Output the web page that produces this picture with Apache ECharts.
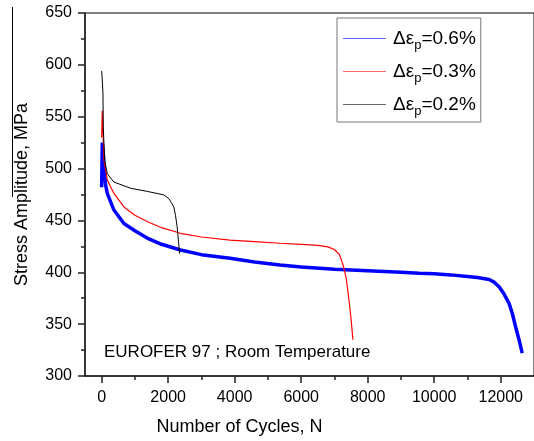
<!DOCTYPE html>
<html>
<head>
<meta charset="utf-8">
<script src="https://cdn.jsdelivr.net/npm/echarts@6/dist/echarts.min.js"></script>
<style>
html, body { margin: 0; padding: 0; background: #fff; }
#chart { width: 534px; height: 441px; }
</style>
</head>
<body>
<div id="chart"></div>
<script>
// 数据：循环次数 / 应力幅
var cycles06 = [0, 20, 50, 90, 120, 170, 370, 670, 1000, 1370, 1800, 2370, 3000, 3860, 4600, 5360, 6000, 7000, 8000, 9000, 9550, 10000, 10500, 11000, 11300, 11650, 11800, 11950, 12100, 12250, 12350, 12450, 12550, 12645];
var stress06 = [482, 525, 515, 495, 484, 476, 460, 447, 440, 433, 427, 421.5, 417, 413.5, 410, 407, 405, 403, 401.5, 400, 399, 398.5, 397.5, 396, 395, 393, 390.5, 386, 379, 370, 360, 347, 335, 322];

var cycles03 = [0, 20, 70, 170, 370, 670, 1000, 1370, 1800, 2370, 3000, 3860, 4600, 5360, 6000, 6500, 6800, 7000, 7150, 7250, 7350, 7430, 7500, 7555];
var stress03 = [530, 556, 508, 489, 476, 463, 455, 449, 443, 437.6, 434, 431, 429.5, 428, 427, 426, 424.5, 422, 417, 408, 395, 375, 355, 335];

var cycles02 = [0, 10, 40, 50, 90, 170, 370, 870, 1370, 1870, 2020, 2100, 2170, 2220, 2270, 2310, 2345];
var stress02 = [594, 590, 573, 540, 508, 495, 487, 481, 478, 474.6, 471, 467, 463, 455, 444, 430, 418];

var xMajor = [0, 2000, 4000, 6000, 8000, 10000, 12000];
var xMinor = [1000, 3000, 5000, 7000, 9000, 11000];

var seriesNames = ['0.6%', '0.3%', '0.2%'];
var seriesColors = ['#0000ff', '#ff0000', '#000000'];

function zip(xs, ys) {
	var out = [];
	for (var i = 0; i < xs.length; i++) {
		out.push([xs[i], ys[i]]);
	}
	return out;
}

var font = 'Liberation Sans, Arial, sans-serif';
var myChart = echarts.init(document.getElementById('chart'));

function lineSeries(name, data, color, width) {
	return {
		name : name,
		type : 'line',
		data : data,
		xAxisIndex : 0,
		symbol : 'none',
		smooth : false,
		lineStyle : {
			color : color,
			width : width
		},
		itemStyle : {
			color : color
		}
	};
}

// 图例线段（图例本身只显示文字）
var legendRowsY = [38.5, 71.5, 104.5];
var graphics = [ {
	type : 'text',
	left : 104,
	top : 344,
	style : {
		text : 'EUROFER 97 ; Room Temperature',
		fontFamily : font,
		fontSize : 17,
		fill : '#000'
	}
}, {
	type : 'line',
	shape : {
		x1 : 12.5,
		y1 : 7,
		x2 : 12.5,
		y2 : 197
	},
	style : {
		stroke : '#000',
		lineWidth : 1
	}
} ];
for (var i = 0; i < seriesNames.length; i++) {
	graphics.push({
		type : 'line',
		z : 100,
		shape : {
			x1 : 343,
			y1 : legendRowsY[i],
			x2 : 386,
			y2 : legendRowsY[i]
		},
		style : {
			stroke : seriesColors[i],
			lineWidth : 1,
			opacity : 0.6
		}
	});
}

var option = {
	animation : false,
	grid : {
		left : 85,
		top : 13,
		right : -2,
		bottom : 65,
		show : true,
		borderColor : '#000',
		borderWidth : 1
	},
	legend : {
		orient : 'vertical',
		left : 337,
		top : 18,
		padding : [ 11, 5, 4, 6 ],
		itemWidth : 42,
		itemHeight : 1,
		itemGap : 10,
		borderColor : '#777',
		borderWidth : 1,
		icon : 'none',
		data : seriesNames,
		formatter : function(name) {
			return '{a|Δε}{s|p}{a|=' + name + '}';
		},
		textStyle : {
			fontFamily : font,
			color : '#000',
			padding : [ 0, 0, 0, 3 ],
			rich : {
				a : {
					fontFamily : font,
					fontSize : 19,
					color : '#000'
				},
				s : {
					fontFamily : font,
					fontSize : 13,
					color : '#000',
					padding : [ 14, 0, 0, 0 ]
				}
			}
		}
	},
	xAxis : [ {
		type : 'value',
		min : -500,
		max : 13000,
		name : 'Number of Cycles, N',
		nameLocation : 'middle',
		nameGap : 42,
		nameTextStyle : {
			fontFamily : font,
			fontSize : 18,
			color : '#000',
			padding : [ 0, 140, 0, 0 ]
		},
		axisLine : {
			show : true,
			onZero : false,
			lineStyle : {
				color : '#222',
				width : 1.5
			}
		},
		axisTick : {
			show : true,
			customValues : xMajor,
			length : 7,
			lineStyle : {
				color : '#222',
				width : 1.5
			}
		},
		axisLabel : {
			customValues : xMajor,
			margin : 14,
			fontFamily : font,
			fontSize : 16,
			color : '#000',
			formatter : function(v) {
				return String(v);
			}
		},
		splitLine : {
			show : false
		}
	}, {
		type : 'value',
		min : -500,
		max : 13000,
		position : 'bottom',
		axisLine : {
			show : false,
			onZero : false
		},
		axisTick : {
			show : true,
			customValues : xMinor,
			length : 4,
			lineStyle : {
				color : '#222',
				width : 1.5
			}
		},
		axisLabel : {
			show : false
		},
		splitLine : {
			show : false
		}
	} ],
	yAxis : {
		type : 'value',
		min : 300,
		max : 650,
		interval : 50,
		name : 'Stress Amplitude, MPa',
		nameLocation : 'middle',
		nameGap : 54,
		nameTextStyle : {
			fontFamily : font,
			fontSize : 18,
			color : '#000'
		},
		axisLine : {
			show : true,
			onZero : false,
			lineStyle : {
				color : '#222',
				width : 1.5
			}
		},
		axisTick : {
			length : 7,
			lineStyle : {
				color : '#222',
				width : 1.5
			}
		},
		minorTick : {
			show : true,
			splitNumber : 2,
			length : 4,
			lineStyle : {
				color : '#222',
				width : 1.5
			}
		},
		axisLabel : {
			margin : 13,
			fontFamily : font,
			fontSize : 16,
			color : '#000'
		},
		splitLine : {
			show : false
		}
	},
	graphic : graphics,
	series : [
		lineSeries(seriesNames[0], zip(cycles06, stress06), seriesColors[0], 3.5),
		lineSeries(seriesNames[1], zip(cycles03, stress03), seriesColors[1], 1.2),
		lineSeries(seriesNames[2], zip(cycles02, stress02), seriesColors[2], 1)
	]
};

myChart.setOption(option);
</script>
</body>
</html>
